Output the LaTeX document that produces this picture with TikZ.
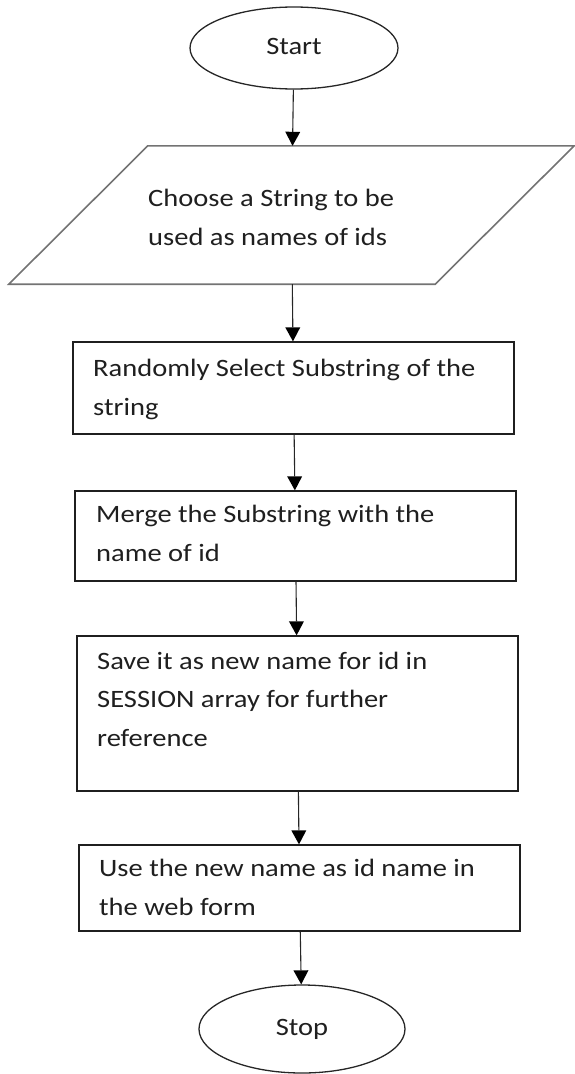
\documentclass[tikz,border=0pt]{standalone}
\usepackage{fontspec}
\setmainfont{Carlito}[FakeStretch=1.14]
\usetikzlibrary{shapes.geometric,arrows.meta}
\begin{document}
\begin{tikzpicture}[x=1pt,y=-1pt,
  every node/.style={font=\fontsize{25}{38.5}\selectfont, text=black!88},
  term/.style={ellipse, draw=black!85, line width=1.3pt, inner sep=0pt},
  procbox/.style={draw=black!88, line width=1.3pt, minimum width=441pt, inner sep=0pt},
  iobox/.style={inner sep=0pt, minimum width=565pt, minimum height=138pt},
  ioline/.style={draw=black!55, line width=1.6pt, line join=miter},
  txt/.style={anchor=base west, align=left, inner sep=0pt},
  arr/.style={draw=black!85, line width=1.1pt, -{Triangle[width=15pt,length=14pt,fill=black,line width=0pt]}},
]
\useasboundingbox (0,0) rectangle (575,1074);

\node[term, minimum width=208pt, minimum height=82pt] (start) at (294,48) {\raisebox{4pt}{Start}};

\node[iobox] (para) at (291.5,215) {};
\draw[ioline] ([xshift=139pt]para.north west) -- (para.north east)
  -- ([xshift=-139pt]para.south east) -- (para.south west) -- cycle;
\node[txt] (t0) at (148,245) {Choose a String to be\\used as names of ids};

\node[procbox, minimum height=92pt] (b1) at (293.5,388) {};
\node[txt] (t1) at (93,415) {Randomly Select Substring of the\\string};

\node[procbox, minimum height=90pt] (b2) at (295.5,536) {};
\node[txt] (t2) at (96,561) {Merge the Substring with the\\name of id};

\node[procbox, minimum height=155pt] (b3) at (297.5,713.5) {};
\node[txt] (t3) at (97,746) {Save it as new name for id in\\SESSION array for further\\reference};

\node[procbox, minimum height=86pt] (b4) at (299.5,888) {};
\node[txt] (t4) at (99,915) {Use the new name as id name in\\the web form};

\node[term, minimum width=206pt, minimum height=88pt] (stop) at (302,1029) {Stop};

\draw[arr] (start) -- (para);
\draw[arr] (para) -- (b1);
\draw[arr] (b1) -- (b2);
\draw[arr] (b2) -- (b3);
\draw[arr] (b3) -- (b4);
\draw[arr] (b4) -- (stop);
\end{tikzpicture}
\end{document}
